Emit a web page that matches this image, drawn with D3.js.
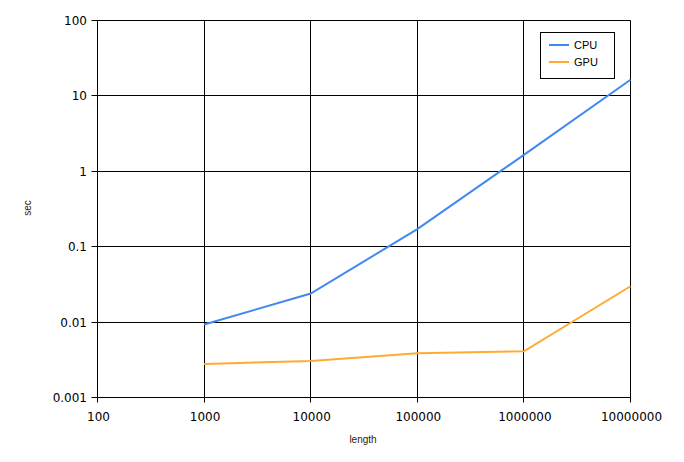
<!DOCTYPE html>
<html lang="en">
<head>
<meta charset="utf-8">
<script src="https://cdn.jsdelivr.net/npm/d3@7"></script>
<style>
body { margin: 0; background: #fff; }
svg text { font-family: "Liberation Sans", Arial, sans-serif; }
svg text.tick { font-family: "DejaVu Sans", sans-serif; font-size: 12px; }
</style>
</head>
<body>
<script>
// data
var lengths = [1000, 10000, 100000, 1000000, 10000000];
var cpuSec = [0.0093, 0.0239, 0.171, 1.65, 16.4];
var gpuSec = [0.00279, 0.00304, 0.00385, 0.0041, 0.0299];
var seriesNames = ["CPU", "GPU"];
var seriesColors = ["#4289ee", "#ffaa33"];
var xTicks = [100, 1000, 10000, 100000, 1000000, 10000000];
var yTicks = [0.001, 0.01, 0.1, 1, 10, 100];
var yTickLabels = ["0.001", "0.01", "0.1", "1", "10", "100"];

var width = 684, height = 462;
var plotL = 97.5, plotR = 630.5, plotT = 20.5, plotB = 397.5;

var svg = d3.select("body").append("svg")
  .attr("width", width)
  .attr("height", height);

var x = d3.scaleLog().domain([100, 10000000]).range([plotL, plotR]);
var y = d3.scaleLog().domain([0.001, 100]).range([plotB, plotT]);

// grid
svg.append("g").selectAll("line").data(xTicks).enter().append("line")
  .attr("x1", d => Math.floor(x(d)) + 0.5).attr("x2", d => Math.floor(x(d)) + 0.5)
  .attr("y1", plotT).attr("y2", plotB + 5)
  .attr("stroke", "#000").attr("stroke-width", 1);
svg.append("g").selectAll("line").data(yTicks).enter().append("line")
  .attr("x1", plotL - 6).attr("x2", plotR)
  .attr("y1", d => Math.floor(y(d)) + 0.5).attr("y2", d => Math.floor(y(d)) + 0.5)
  .attr("stroke", "#000").attr("stroke-width", 1);

// tick labels
svg.append("g").selectAll("text").data(yTicks).enter().append("text")
  .attr("class", "tick")
  .attr("x", 87).attr("y", d => y(d) + 4.5)
  .attr("text-anchor", "end")
  .text((d, i) => yTickLabels[i]);
svg.append("g").selectAll("text").data(xTicks).enter().append("text")
  .attr("class", "tick")
  .attr("x", d => x(d) + 1).attr("y", 421)
  .attr("text-anchor", "middle")
  .text(d => d3.format("d")(d));

// axis titles
svg.append("text")
  .attr("transform", "translate(31,208) rotate(-90)")
  .attr("text-anchor", "middle")
  .style("font-size", "10px").style("fill", "#332200")
  .text("sec");
svg.append("text")
  .attr("x", 363).attr("y", 443)
  .attr("text-anchor", "middle")
  .style("font-size", "10px").style("fill", "#332200")
  .text("length");

// lines
var line = d3.line()
  .x(d => x(d[0]))
  .y(d => y(d[1]));
[cpuSec, gpuSec].forEach(function(vals, i) {
  svg.append("path")
    .datum(lengths.map((l, j) => [l, vals[j]]))
    .attr("d", line)
    .attr("fill", "none")
    .attr("stroke", seriesColors[i])
    .attr("stroke-width", 2);
});

// legend
var legend = svg.append("g");
legend.append("rect")
  .attr("x", 540.5).attr("y", 32.5)
  .attr("width", 74).attr("height", 46)
  .attr("fill", "#fff").attr("stroke", "#000");
seriesNames.forEach(function(n, i) {
  var ly = 45 + i * 17;
  legend.append("line")
    .attr("x1", 549).attr("x2", 569)
    .attr("y1", ly).attr("y2", ly)
    .attr("stroke", seriesColors[i]).attr("stroke-width", 2);
  legend.append("text")
    .attr("x", 574).attr("y", ly + 4)
    .style("font-size", "11px")
    .text(n);
});
</script>
</body>
</html>
